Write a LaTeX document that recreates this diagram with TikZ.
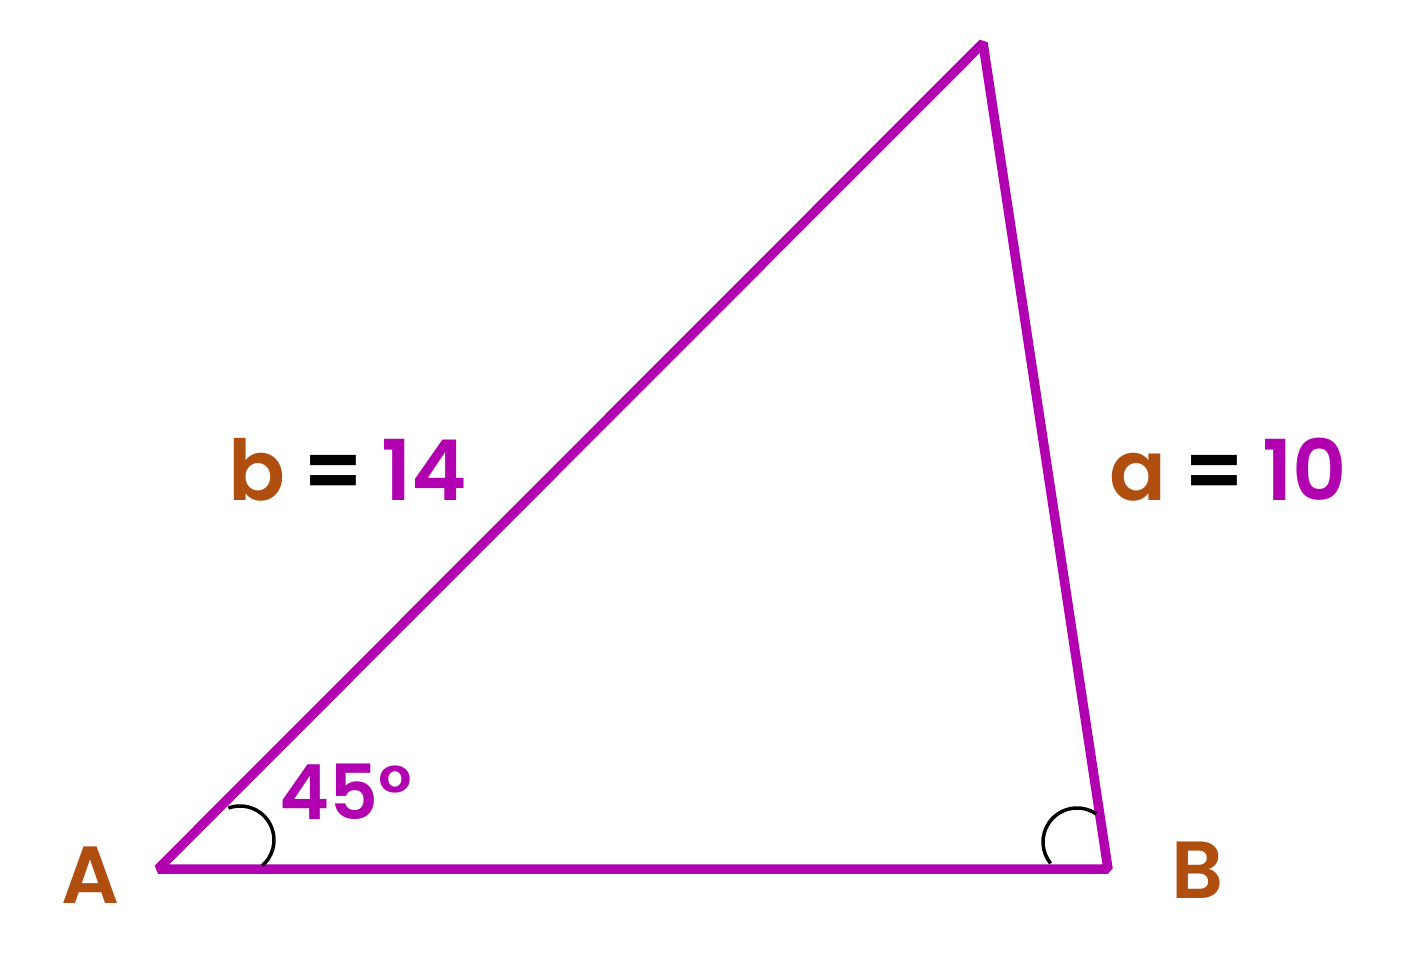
\documentclass[tikz,border=0pt]{standalone}
\usepackage{fontspec}
\setmainfont{Poppins}[BoldFont={Poppins SemiBold}]
\definecolor{tri}{RGB}{176,0,176}
\definecolor{lbl}{RGB}{176,78,16}
\newcommand{\eqsign}{\hspace{17pt}=\hspace{17pt}}
\begin{document}
\begin{tikzpicture}[x=1pt,y=-1pt,
  side/.style={draw=tri,line width=9.5pt,line join=bevel},
  anglemark/.style={draw=black,line width=3.5pt},
  vlabel/.style={text=lbl,font=\fontsize{81}{81}\selectfont\bfseries,inner sep=0pt,anchor=base},
  slabel/.style={font=\fontsize{84}{84}\selectfont\bfseries,inner sep=0pt,anchor=base}]
\useasboundingbox (0,0) rectangle (1425,962);
\coordinate (A) at (158,869);
\coordinate (B) at (1108,869);
\coordinate (C) at (983,43);
\draw[side] (A) -- (B) -- (C) -- cycle;
\draw[anglemark] (240,840) ++(-110:34) arc[start angle=-110,end angle=49,radius=34];
\draw[anglemark] (1077,842) ++(-56:34) arc[start angle=-56,end angle=-219,radius=34];
\node[vlabel] (la) at (90,903) {A};
\node[vlabel] (lb) at (1198,898) {B};
\node[slabel] (sb) at (348,500) {\textcolor{lbl}{b}\eqsign\textcolor{tri}{14}};
\node[slabel] (sa) at (1228,500) {\textcolor{lbl}{a}\eqsign\textcolor{tri}{10}};
\node[slabel,text=tri,font=\fontsize{76}{76}\selectfont\bfseries] (ang) at (346,819) {45°};
\end{tikzpicture}
\end{document}
